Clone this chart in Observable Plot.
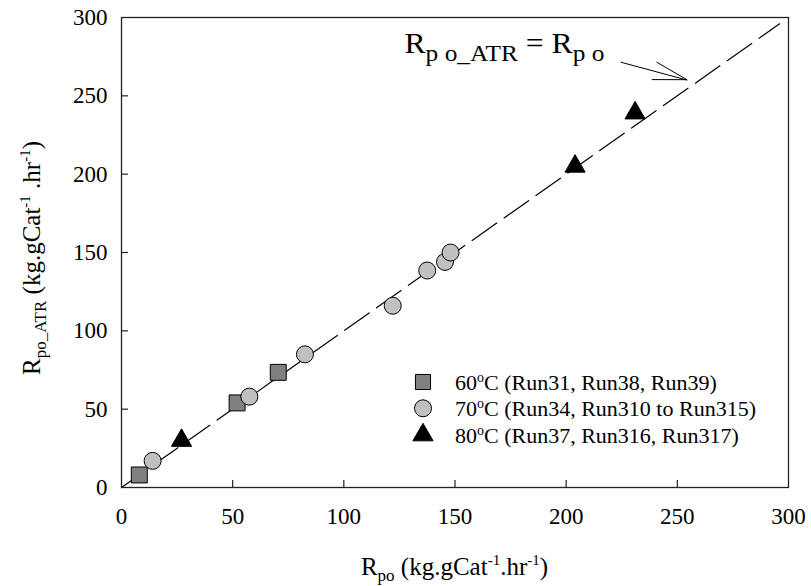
<!DOCTYPE html>
<html>
<head>
<meta charset="utf-8">
<script src="https://cdn.jsdelivr.net/npm/d3@7"></script>
<script src="https://cdn.jsdelivr.net/npm/@observablehq/plot@0.6"></script>
<style>
  html, body { margin: 0; padding: 0; background: #fff; }
  #chart { width: 811px; height: 586px; }
  #chart svg, #chart svg text { font-family: "Liberation Serif", "Times New Roman", "DejaVu Serif", serif !important; }
</style>
</head>
<body>
<div id="chart"></div>
<script>
// ---- data ----
const xTicks = [0, 50, 100, 150, 200, 250, 300];
const yTicks = [0, 50, 100, 150, 200, 250, 300];

const seriesNames = ["60", "70", "80"];
const seriesRuns = ["(Run31, Run38, Run39)", "(Run34, Run310 to Run315)", "(Run37, Run316, Run317)"];

const x60 = [8, 52, 70.5];
const y60 = [8, 54, 73.5];
const x70 = [14, 57.5, 82.5, 122, 137.5, 145.5, 148];
const y70 = [17, 58, 85, 116, 138.5, 144, 150];
const x80 = [27, 204, 231];
const y80 = [30, 205, 239];

const parity = [0, 296];           // Rpo_ATR = Rpo reference line
const arrowTail = [224.5, 271.5];   // annotation arrow (data units)
const arrowTip = [254.5, 260];
const labelAt = [127.5, 277];       // annotation text anchor (data units)

// ---- layout ----
const W = 811, H = 586;
const mL = 121, mR = 23, mT = 17, mB = 99;
const innerW = W - mL - mR, innerH = H - mT - mB;
const FONT = "'Liberation Serif', 'Times New Roman', 'DejaVu Serif', serif";

const toRows = (xs, ys) => xs.map((x, i) => ({x, y: ys[i]}));
const d60 = toRows(x60, y60), d70 = toRows(x70, y70), d80 = toRows(x80, y80);
const lineRows = parity.map(v => ({x: v, y: v}));

const plot = Plot.plot({
  width: W, height: H,
  marginLeft: mL, marginRight: mR, marginTop: mT, marginBottom: mB,
  style: {fontFamily: FONT, fontSize: "23px", background: "#fff", color: "#000"},
  x: {domain: [0, 300]},
  y: {domain: [0, 300]},
  marks: [
    Plot.line(lineRows, {x: "x", y: "y", stroke: "#000", strokeWidth: 1.2, strokeDasharray: "30,9"}),
    Plot.dot(d60, {x: "x", y: "y", symbol: "square", r: 9, fill: "#808080", stroke: "#000", strokeWidth: 1}),
    Plot.dot(d70, {x: "x", y: "y", symbol: "circle", r: 8.5, fill: "#c0c0c0", stroke: "#000", strokeWidth: 1}),
    Plot.dot(d80, {x: "x", y: "y", symbol: "triangle", r: 7.5, fill: "#000", stroke: "#000", strokeWidth: 1}),
    Plot.link([{x1: arrowTail[0], y1: arrowTail[1], x2: arrowTip[0], y2: arrowTip[1]}],
      {x1: "x1", y1: "y1", x2: "x2", y2: "y2", stroke: "#000", strokeWidth: 1}),
    Plot.frame({stroke: "#222", strokeWidth: 1.3}),
    Plot.tickX(xTicks.slice(1, -1), {x: d => d, insetTop: innerH - 7, stroke: "#222", strokeWidth: 1.2}),
    Plot.tickY(yTicks.slice(1, -1), {y: d => d, insetRight: innerW - 7, stroke: "#222", strokeWidth: 1.2}),
    Plot.axisX(xTicks, {tickSize: 0, tickPadding: 20, fontSize: 23, label: null}),
    Plot.axisY(yTicks, {tickSize: 0, tickPadding: 14, fontSize: 23, label: null})
  ]
});
document.getElementById("chart").appendChild(plot);

const svg = d3.select(plot);
const sx = plot.scale("x").apply, sy = plot.scale("y").apply;

// arrow head (open, two wings)
{
  const x1 = sx(arrowTail[0]), y1 = sy(arrowTail[1]);
  const x2 = sx(arrowTip[0]), y2 = sy(arrowTip[1]);
  const ang = Math.atan2(y2 - y1, x2 - x1);
  const len = 35, spread = 15 * Math.PI / 180;
  const g = svg.append("g").attr("stroke", "#000").attr("stroke-width", 1).attr("fill", "none");
  for (const s of [-1, 1]) {
    const a = ang + Math.PI + s * spread;
    g.append("line").attr("x1", x2).attr("y1", y2)
      .attr("x2", x2 + len * Math.cos(a)).attr("y2", y2 + len * Math.sin(a));
  }
}

// helper to build text with sub/superscripts
function rich(sel, parts, size) {
  const t = sel.append("text").attr("font-family", FONT).attr("font-size", size)
    .attr("fill", "#000").attr("text-anchor", "start");
  let cur = 0;
  for (const p of parts) {
    const shift = p.shift || 0;
    t.append("tspan").attr("dy", shift - cur).attr("font-size", p.size || size).text(p.t);
    cur = shift;
  }
  return t;
}

// annotation text
rich(svg, [
  {t: "R"}, {t: "p o_ATR", shift: 8, size: 24}, {t: " = R"}, {t: "p o", shift: 8, size: 24}
], 30).attr("x", sx(labelAt[0])).attr("y", sy(labelAt[1]))
  .attr("textLength", 200).attr("lengthAdjust", "spacingAndGlyphs");

// x title
rich(svg, [
  {t: "R"}, {t: "po", shift: 6, size: 17}, {t: " (kg.gCat"}, {t: "-1", shift: -10, size: 15},
  {t: ".hr"}, {t: "-1", shift: -10, size: 15}, {t: ")"}
], 25).attr("x", mL + innerW / 2).attr("y", 575).attr("text-anchor", "middle");

// y title
rich(svg, [
  {t: "R"}, {t: "po_ATR", shift: 6, size: 17}, {t: " (kg.gCat"}, {t: "-1", shift: -10, size: 15},
  {t: " .hr"}, {t: "-1", shift: -10, size: 15}, {t: ")"}
], 25).attr("text-anchor", "middle").attr("transform", `translate(40,${mT + innerH / 2 + 6}) rotate(-90)`);

// legend
{
  const lx = 423, tx = 455, rowsY = [382, 408.3, 435];
  const styles = [
    {sym: d3.symbolSquare, r: 8.5, fill: "#808080"},
    {sym: d3.symbolCircle, r: 8.5, fill: "#c0c0c0"},
    {sym: d3.symbolTriangle, r: 7.5, fill: "#000"}
  ];
  seriesNames.forEach((name, i) => {
    const st = styles[i];
    svg.append("path").attr("d", d3.symbol(st.sym, Math.PI * st.r * st.r)())
      .attr("transform", `translate(${lx},${rowsY[i]})`)
      .attr("fill", st.fill).attr("stroke", "#000").attr("stroke-width", 1);
    rich(svg, [{t: name}, {t: "o", shift: -8, size: 14}, {t: "C " + seriesRuns[i]}], 22)
      .attr("x", tx).attr("y", rowsY[i] + 7.5);
  });
}
</script>
</body>
</html>
